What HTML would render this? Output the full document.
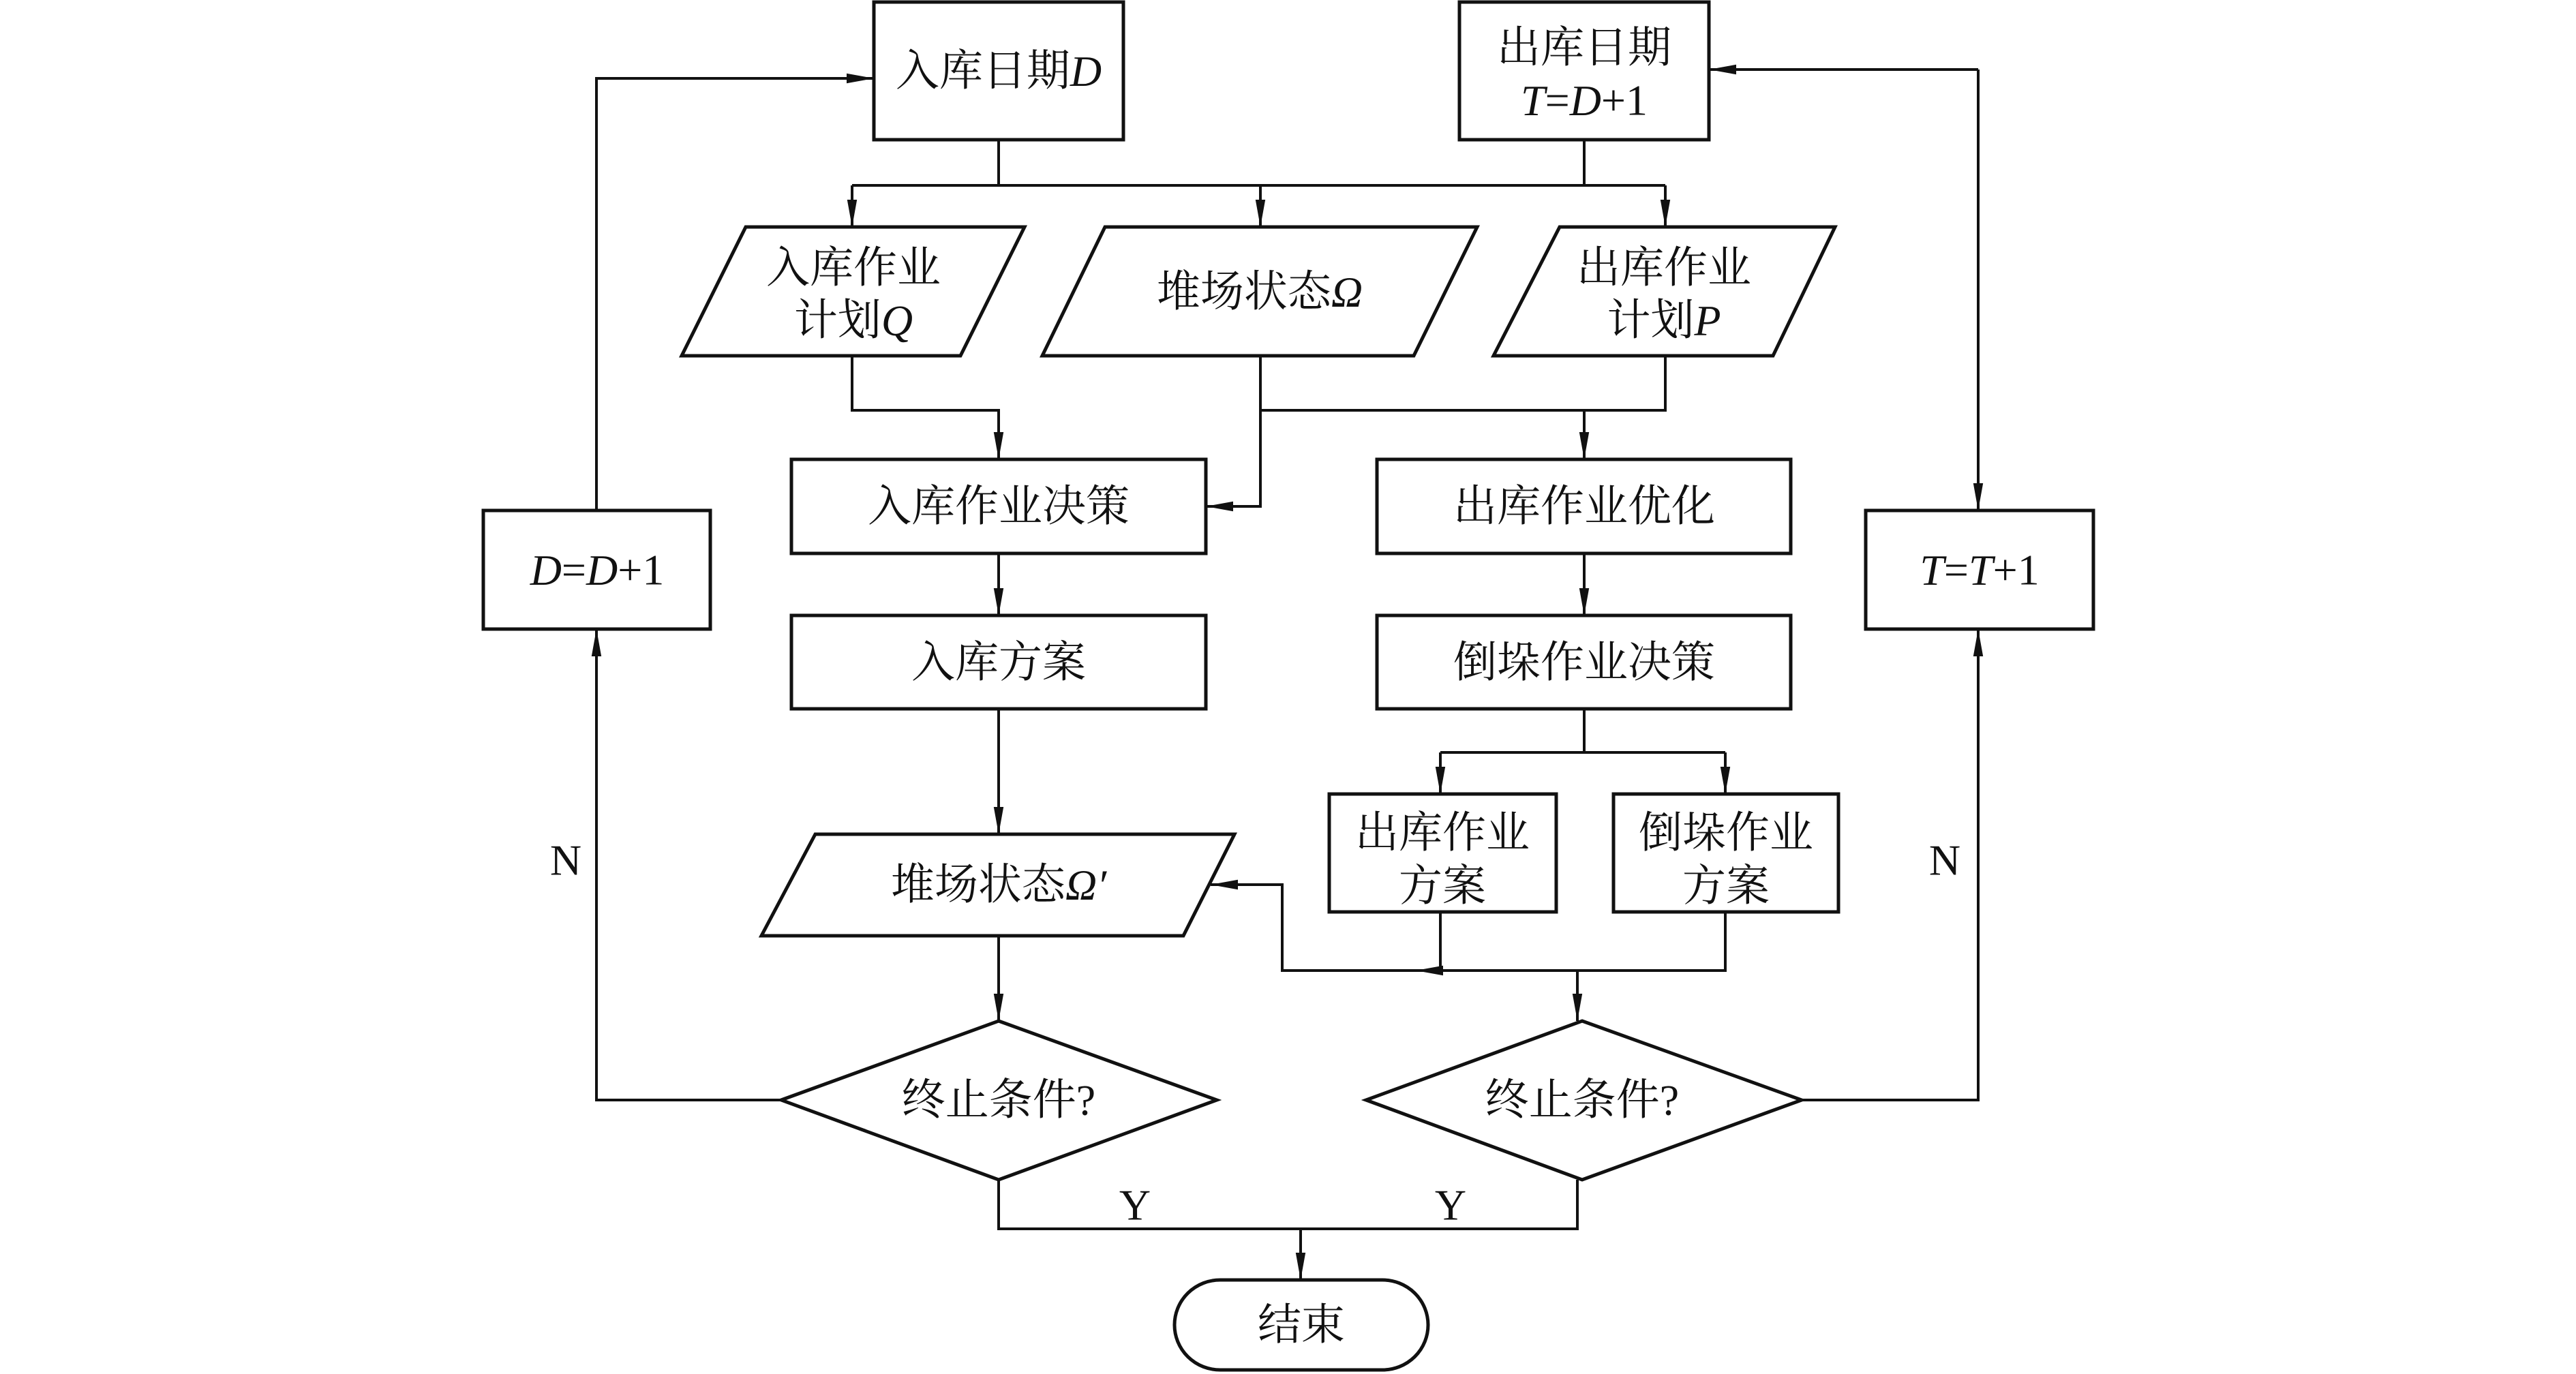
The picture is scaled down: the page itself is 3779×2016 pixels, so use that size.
<!DOCTYPE html>
<html><head><meta charset="utf-8"><style>
html,body{margin:0;padding:0;background:#fff;}
svg{display:block;}
text{font-family:"Liberation Serif","Noto Serif CJK SC",serif;font-size:64px;fill:#111;text-anchor:middle;dominant-baseline:central;}
.i{font-style:italic;}
</style></head><body>
<svg width="3779" height="2016" viewBox="0 0 3779 2016" xmlns="http://www.w3.org/2000/svg">
<defs>
<marker id="a" viewBox="0 0 10 10" refX="10" refY="5" markerWidth="40" markerHeight="40" markerUnits="userSpaceOnUse" orient="auto">
<path d="M0,3.2 L10,5 L0,6.8 Z" fill="#111"/></marker>
</defs>
<g fill="none" stroke="#111" stroke-width="5">
<!-- boxes -->
<rect x="1282" y="3" width="366" height="202"/>
<rect x="2141" y="3" width="366" height="202"/>
<polygon points="1094,333 1503,333 1409,522 1000,522"/>
<polygon points="1621,333 2167,333 2074,522 1529,522"/>
<polygon points="2288,333 2692,333 2601,522 2191,522"/>
<rect x="1161" y="674" width="608" height="138"/>
<rect x="2020" y="674" width="607" height="138"/>
<rect x="709" y="749" width="333" height="174"/>
<rect x="2737" y="749" width="334" height="174"/>
<rect x="1161" y="903" width="608" height="137"/>
<rect x="2020" y="903" width="607" height="137"/>
<rect x="1950" y="1165" width="333" height="173"/>
<rect x="2367" y="1165" width="330" height="173"/>
<polygon points="1196,1224 1811,1224 1736,1373 1117,1373"/>
<polygon points="1465,1498 1785,1614 1465,1731 1146,1614"/>
<polygon points="2321,1498 2643,1614 2321,1731 2004,1614"/>
<path d="M1790,1878 H2028 A67,66 0 0 1 2028,2010 H1790 A67,66 0 0 1 1790,1878 Z"/>
</g>
<g fill="none" stroke="#111" stroke-width="4">
<!-- top branch -->
<path d="M1465,205 V272"/>
<path d="M2324,205 V272"/>
<path d="M1250,272 H2443"/>
<path d="M1250,272 V333" marker-end="url(#a)"/>
<path d="M1849,272 V333" marker-end="url(#a)"/>
<path d="M2443,272 V333" marker-end="url(#a)"/>
<!-- Q to decision -->
<path d="M1250,522 V602 H1465 V674" marker-end="url(#a)"/>
<!-- Omega -->
<path d="M1849,522 V743 H1769" marker-end="url(#a)"/>
<path d="M1849,602 H2443 V522"/>
<path d="M2324,602 V674" marker-end="url(#a)"/>
<!-- left chain -->
<path d="M1465,812 V903" marker-end="url(#a)"/>
<path d="M1465,1040 V1224" marker-end="url(#a)"/>
<path d="M1465,1373 V1498" marker-end="url(#a)"/>
<!-- right chain -->
<path d="M2324,812 V903" marker-end="url(#a)"/>
<path d="M2324,1040 V1104"/>
<path d="M2113,1104 H2531"/>
<path d="M2113,1104 V1165" marker-end="url(#a)"/>
<path d="M2531,1104 V1165" marker-end="url(#a)"/>
<path d="M2113,1338 V1424"/>
<path d="M2531,1338 V1424 H2077"/>
<path d="M2113,1424 H2077" marker-end="url(#a)"/>
<path d="M2080,1424 H1881 V1298 H1776" marker-end="url(#a)"/>
<path d="M2314,1424 V1498" marker-end="url(#a)"/>
<!-- loops -->
<path d="M1146,1614 H875 V923" marker-end="url(#a)"/>
<path d="M875,749 V115 H1282" marker-end="url(#a)"/>
<path d="M2643,1614 H2902 V923" marker-end="url(#a)"/>
<path d="M2902,749 V102" />
<path d="M2902,102 H2507" marker-end="url(#a)"/>
<path d="M2902,102 V749" marker-end="url(#a)"/>
<!-- Y -->
<path d="M1465,1731 V1803 H2314 V1731"/>
<path d="M1908,1803 V1878" marker-end="url(#a)"/>
</g>
<g>
<text x="1465" y="104">入库日期<tspan class="i">D</tspan></text>
<text x="2324" y="70">出库日期</text>
<text x="2324" y="147"><tspan class="i">T</tspan>=<tspan class="i">D</tspan>+1</text>
<text x="1252" y="393">入库作业</text>
<text x="1252" y="470">计划<tspan class="i">Q</tspan></text>
<text x="1848" y="428">堆场状态<tspan class="i">Ω</tspan></text>
<text x="2441" y="393">出库作业</text>
<text x="2441" y="470">计划<tspan class="i">P</tspan></text>
<text x="1465" y="743">入库作业决策</text>
<text x="2324" y="743">出库作业优化</text>
<text x="876" y="836"><tspan class="i">D</tspan>=<tspan class="i">D</tspan>+1</text>
<text x="2904" y="836"><tspan class="i">T</tspan>=<tspan class="i">T</tspan>+1</text>
<text x="1465" y="972">入库方案</text>
<text x="2324" y="972">倒垛作业决策</text>
<text x="2116" y="1222">出库作业</text>
<text x="2116" y="1300">方案</text>
<text x="2532" y="1222">倒垛作业</text>
<text x="2532" y="1300">方案</text>
<text x="1465" y="1298">堆场状态<tspan class="i">Ω′</tspan></text>
<text x="1465" y="1614">终止条件?</text>
<text x="2321" y="1614">终止条件?</text>
<text x="830" y="1262">N</text>
<text x="2853" y="1262">N</text>
<text x="1665" y="1768">Y</text>
<text x="2128" y="1768">Y</text>
<text x="1909" y="1944">结束</text>
</g>
</svg>
</body></html>
